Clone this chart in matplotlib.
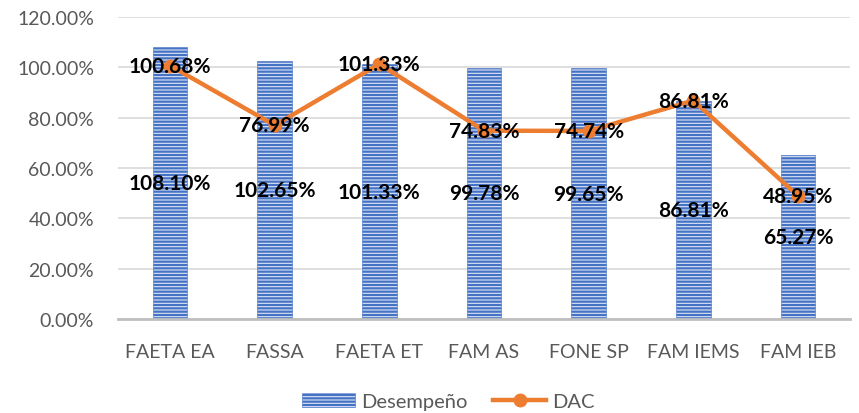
import matplotlib
matplotlib.use("Agg")
import matplotlib.pyplot as plt
from matplotlib.ticker import FuncFormatter
from matplotlib.lines import Line2D
from matplotlib.patches import Patch

categories = ["FAETA EA", "FASSA", "FAETA ET", "FAM AS", "FONE SP", "FAM IEMS", "FAM IEB"]
desempeno = [108.10, 102.65, 101.33, 99.78, 99.65, 86.81, 65.27]
dac = [100.68, 76.99, 101.33, 74.83, 74.74, 86.81, 48.95]
yticks = [0, 20, 40, 60, 80, 100, 120]

plt.rcParams['font.family'] = ['Lato', 'DejaVu Sans']
plt.rcParams['hatch.color'] = '#4472C4'
plt.rcParams['hatch.linewidth'] = 1.6

fig = plt.figure(figsize=(8.59, 4.14), dpi=100)
ax = fig.add_axes([0.137, 0.227, 0.853, 0.7295])

x = list(range(len(categories)))
bars = ax.bar(x, desempeno, width=0.33, color='#DCE5F5', edgecolor='#4472C4',
              linewidth=0.4, hatch='-----', zorder=2, label='Desempeño')
ax.plot(x, dac, color='#ED7D31', linewidth=3.2, marker='o', markersize=9,
        zorder=3, label='DAC')

for xi, v in zip(x, desempeno):
    ax.text(xi, v / 2, f"{v:.2f}%", ha='center', va='center', fontsize=15,
            fontweight='bold', color='black', zorder=5)
for xi, v in zip(x, dac):
    ax.text(xi, v, f"{v:.2f}%", ha='center', va='center', fontsize=15,
            fontweight='bold', color='black', zorder=5)

ax.set_xlim(-0.5, len(categories) - 0.5)
ax.set_ylim(0, 120)
ax.set_yticks(yticks)
ax.yaxis.set_major_formatter(FuncFormatter(lambda v, p: f"{v:.2f}%"))
ax.set_xticks(x)
ax.set_xticklabels(categories)
ax.tick_params(axis='both', length=0, labelsize=14, labelcolor='#595959')
ax.tick_params(axis='y', pad=17)
ax.tick_params(axis='x', pad=17)
ax.grid(axis='y', color='#D9D9D9', linewidth=1.2, zorder=0)
ax.set_axisbelow(True)
for s in ['top', 'right', 'left']:
    ax.spines[s].set_visible(False)
ax.spines['bottom'].set_color('#BFBFBF')
ax.spines['bottom'].set_linewidth(2)
ax.spines['bottom'].set_zorder(4)

handles = [Patch(facecolor='#DCE5F5', edgecolor='#4472C4', hatch='-----', linewidth=0.4, label='Desempeño'),
           Line2D([0], [0], color='#ED7D31', linewidth=3.2, marker='o', markersize=9, label='DAC')]
fig.legend(handles=handles, loc='center', bbox_to_anchor=(0.522, 0.028), ncol=2, frameon=False,
           fontsize=14.5, labelcolor='#595959', handlelength=2.6, handleheight=0.7, columnspacing=1.3,
           handletextpad=0.3)

fig.savefig("out.png", dpi=100)
